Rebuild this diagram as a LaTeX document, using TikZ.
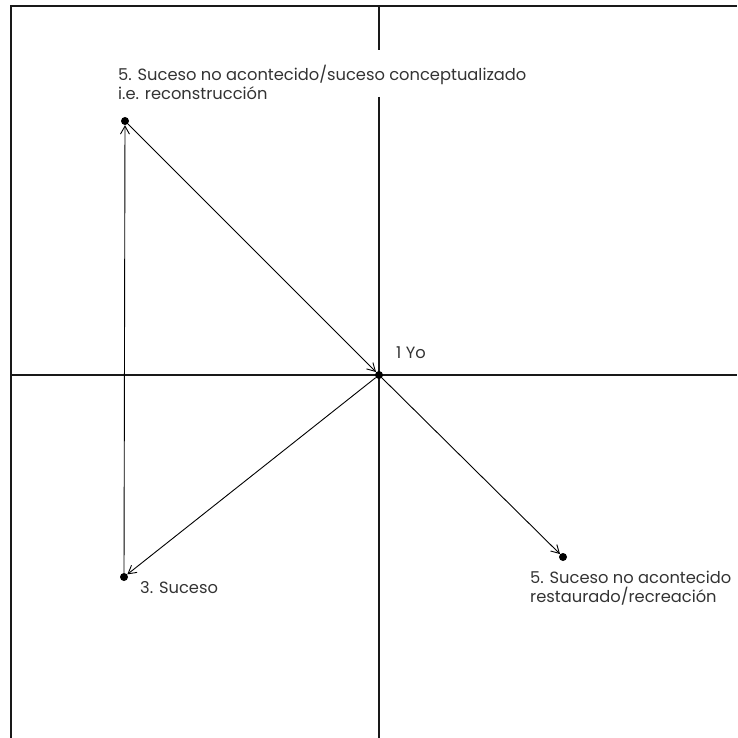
\documentclass[tikz,border=0pt]{standalone}
\usepackage{fontspec}
\setmainfont{Poppins}
\usetikzlibrary{arrows.meta}
\begin{document}
\begin{tikzpicture}[x=1pt,y=-1pt,
  axis/.style={line width=2pt,draw=black!90},
  conn/.style={line width=0.9pt,-{Straight Barb[length=8pt,width=9pt]}},
  dot/.style={circle,fill=black,inner sep=0pt,minimum size=8pt},
  lbl/.style={inner sep=0pt,anchor=west,align=left,font=\fontsize{16.3}{19}\selectfont,text=black!80}]
\useasboundingbox (0,0) rectangle (737,738);
% frame and axes
\draw[axis] (11,738) -- (11,6) -- (737,6);
\draw[axis] (379,6) -- (379,50);
\draw[axis] (379,97) -- (379,738);
\draw[axis] (11,375) -- (737,375);
% points
\node[dot] (top) at (125,121) {};
\node[dot] (yo) at (379,375) {};
\node[dot] (suc) at (124,577) {};
\node[dot] (br) at (563,557) {};
% connectors
\draw[conn] (top) -- (yo);
\draw[conn] (suc) -- (top);
\draw[conn] (yo) -- (suc);
\draw[conn] (yo) -- (br);
% labels
\node[lbl] (ltop) at (118,82) {5. Suceso no acontecido/suceso conceptualizado\\i.e. reconstrucción};
\node[lbl] (lyo) at (396,353) {1 Yo};
\node[lbl] (lsuc) at (140,588) {3. Suceso};
\node[lbl] (lbr) at (530,588) {5. Suceso no acontecido\\restaurado/recreación};
\end{tikzpicture}
\end{document}
